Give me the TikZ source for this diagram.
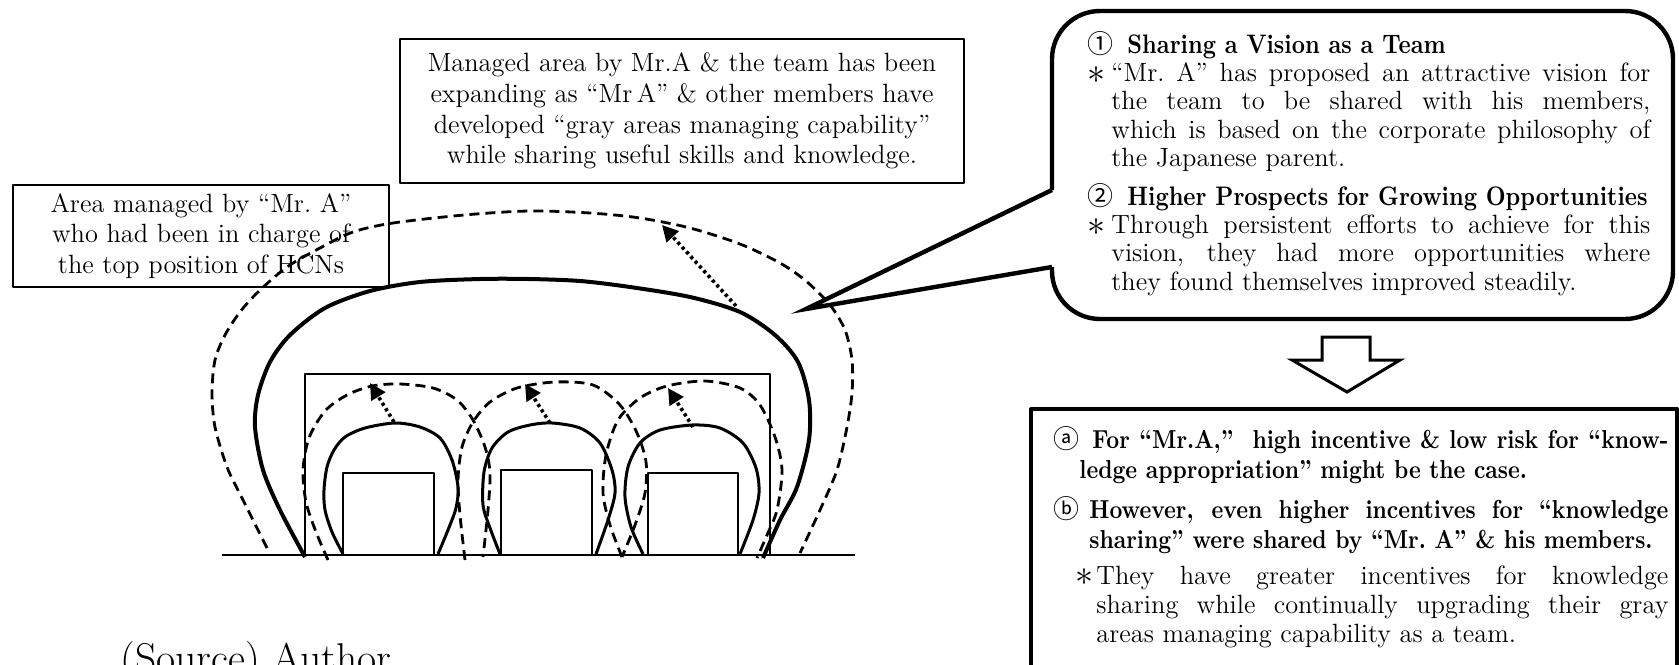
\documentclass[tikz,border=0pt]{standalone}
\usepackage{fontspec}
\usepackage{graphicx}
\usepackage{tikz}
\usetikzlibrary{arrows.meta,positioning}
\newfontfamily\cjkfont{Noto Sans CJK JP}
\newfontfamily\condbf{lmroman10-bold.otf}[FakeStretch=0.86]
\newcommand\hangitem[4]{\hangindent=#1\hangafter=1\makebox[#2][l]{#3}#4\par}
\newcommand\notemark{\raisebox{-0.8pt}{\scalebox{1.5}{$\ast$}}}
\newcommand\circno[1]{\makebox[20pt][l]{\cjkfont\fontsize{13}{13}\selectfont #1}}
\newcommand\headtext[1]{{\condbf\fontsize{13.4}{14.2}\selectfont #1}\par}
\tikzset{
  >={Triangle[length=8pt,width=8pt]},
  txtbox/.style={draw,line width=1.2pt,align=center,inner sep=0pt,
    font=\fontsize{13.2}{15.3}\selectfont},
  para/.style={anchor=base west,inner sep=0pt,align=justify,text width=#1},
  area/.style={line width=1.5pt},
  bigarea/.style={line width=2pt},
  reach/.style={line width=1.4pt,dash pattern=on 5pt off 3pt},
  growth/.style={->,line width=1.8pt,dash pattern=on 1.6pt off 1.6pt},
  callout/.style={line width=2.2pt},
}

\begin{document}
\begin{tikzpicture}[x=0.5pt,y=-0.5pt,line join=round]
\useasboundingbox (0,0) rectangle (1679,664);

\node[txtbox,minimum width=188pt,minimum height=51pt] (leftnote) at (201,236)
  {Area managed by “Mr.\ A”\\who had been in charge of\\the top position of HCNs};
\node[txtbox,minimum width=282pt,minimum height=72pt] (topnote) at (682,111)
  {Managed area by Mr.A \& the team has been\\expanding as “Mr\,A” \& other members have\\developed “gray areas managing capability”\\while sharing useful skills and knowledge.};

\draw[line width=1.3pt] (222,555) -- (855,555);
\draw[line width=1pt] (305,374) rectangle (770,555);
\draw[line width=1pt] (343,473) rectangle (434,555);
\draw[line width=1pt] (501,470) rectangle (592,555);
\draw[line width=1pt] (648,473) rectangle (738,555);

\draw[area] plot[smooth] coordinates {(343,554) (332,532) (325,510) (324,490) (327,467) (334,450) (345,437) (365,428) (395,423) (420,427) (440,438) (452,460) (458,487) (456,508) (448,530) (438,554)};
\draw[area] plot[smooth] coordinates {(500,554) (490,528) (483,505) (484,472) (492,448) (508,432) (530,425) (552,423) (580,428) (600,443) (612,470) (615,493) (608,520) (596,554)};
\draw[area] plot[smooth] coordinates {(643,554) (631,527) (625,497) (628,467) (640,443) (660,430) (693,425) (720,428) (743,443) (756,468) (759,493) (753,520) (740,554)};

\draw[reach] plot[smooth] coordinates {(328,560) (316,532) (306,502) (303,470) (309,438) (325,411) (347,395) (372,386) (400,384) (433,388) (457,400) (473,420) (485,447) (490,473) (488,510) (483,557)};
\draw[reach] plot[smooth] coordinates {(465,560) (460,515) (458,480) (462,447) (473,422) (490,402) (517,388) (555,382) (593,385) (620,405) (637,433) (646,462) (645,493) (635,525) (622,557)};
\draw[reach] plot[smooth] coordinates {(622,557) (610,525) (603,493) (606,455) (618,420) (640,398) (667,386) (705,381) (740,388) (760,405) (775,437) (782,470) (777,510) (767,535) (757,558)};

\draw[bigarea] plot[smooth] coordinates {(305,557) (280,510) (263,470) (255,427) (258,395) (270,362) (290,335) (325,308) (370,291) (420,282) (480,279) (529,279) (580,281) (630,287) (690,297) (740,312) (775,335) (798,362) (809,400) (809,440) (797,487) (780,520) (763,558)};
\draw[reach] plot[smooth] coordinates {(267,548) (243,500) (227,467) (215,427) (212,393) (215,360) (225,335) (240,312) (258,292) (287,267) (320,248) (353,232) (393,223) (464,215) (529,211) (590,213) (640,218) (690,228) (740,244) (780,263) (806,281) (830,305) (845,330) (852,360) (852,393) (847,427) (837,470) (820,510) (800,553)};

\coordinate (g1) at (394,422);
\coordinate (t1) at (370,383);
\coordinate (g2) at (550,423);
\coordinate (t2) at (525,384);
\coordinate (g3) at (693,427);
\coordinate (t3) at (668,388);
\coordinate (gA) at (736,306);
\coordinate (tA) at (662,225);
\draw[growth] (g1) -- (t1);
\draw[growth] (g2) -- (t2);
\draw[growth] (g3) -- (t3);
\draw[growth] (gA) -- (tA);

\draw[callout] (1052,190) [rounded corners=24pt] -- (1052,11) -- (1673,11) -- (1673,319) -- (1052,319) -- (1052,267);
\draw[callout,line join=miter] (1052,190) -- (806,309) -- (1052,267);

\node[para=281.5pt,font=\fontsize{13.2}{14.2}\selectfont] (vision) at (1087,53)
  {\circno{①}\headtext{Sharing a Vision as a Team}\hangitem{12pt}{12pt}{\notemark}{“Mr.\ A” has proposed an attractive vision for\linebreak the team to be shared with his members,\linebreak which is based on the corporate philosophy of\linebreak the Japanese parent.}};
\node[para=281.5pt,font=\fontsize{13.2}{14.2}\selectfont] (prospects) at (1087,205)
  {\circno{②}\headtext{Higher Prospects for Growing Opportunities}\hangitem{12pt}{12pt}{\notemark}{Through persistent efforts to achieve for this\linebreak vision, they had more opportunities where\linebreak they found themselves improved steadily.}};

\draw[line width=1.5pt,line join=miter] (1322,337) -- (1370,337) -- (1370,360) -- (1400,360) -- (1347,392) -- (1292,360) -- (1322,360) -- cycle;

\draw[line width=2pt] (1031,760) -- (1031,409) -- (1677,409) -- (1677,760);
\node[para=307.5pt,font=\fontsize{13}{15}\selectfont] (itemA) at (1053,448)
  {\hangitem{13pt}{19.5pt}{\cjkfont ⓐ}{\condbf For “Mr.A,”\ \ high incentive \& low risk for “know-\linebreak ledge appropriation” might be the case.}};
\node[para=307.5pt,font=\fontsize{13}{15}\selectfont] (itemB) at (1053,518)
  {\hangitem{18pt}{18pt}{\cjkfont ⓑ}{\condbf However, even higher incentives for “knowledge\linebreak sharing” were shared by “Mr.\ A” \& his members.}};
\node[para=296.5pt,font=\fontsize{13.2}{14.6}\selectfont] (itemC) at (1075,584)
  {\hangitem{10.5pt}{10.5pt}{\notemark}{They have greater incentives for knowledge\linebreak sharing while continually upgrading their gray\linebreak areas managing capability as a team.}};

\node[anchor=base west,inner sep=0pt,font=\fontsize{20.8}{25}\selectfont] (source) at (120,672) {(Source) Author};
\end{tikzpicture}
\end{document}
